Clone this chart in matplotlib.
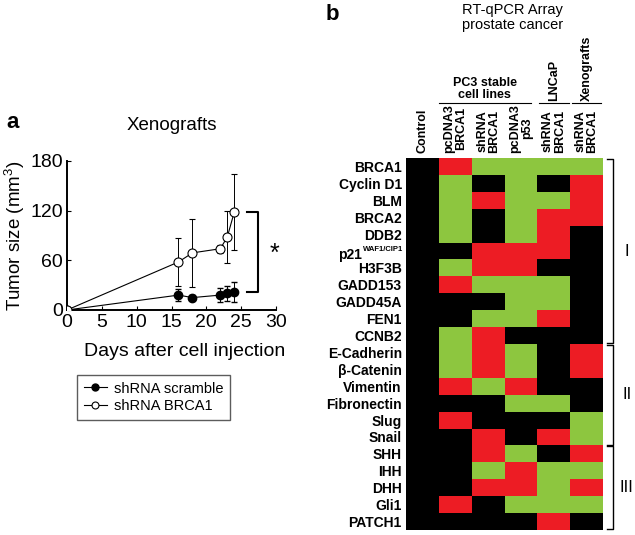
import numpy as np
import matplotlib
matplotlib.use("Agg")
import matplotlib.pyplot as plt
from matplotlib.colors import ListedColormap
from matplotlib.lines import Line2D

plt.rcParams['font.family'] = ['Liberation Sans', 'DejaVu Sans']

# Panel a data: tumor size over time
days_scr = [0, 16, 18, 22, 23, 24]
size_scr = [0, 18, 15, 18, 20, 22]
err_scr = [0, 7, 3, 8, 9, 12]
days_brca = [0, 16, 18, 22, 23, 24]
size_brca = [0, 58, 69, 74, 88, 118]
err_brca = [0, 29, 41, 5, 31, 46]

# Panel b data: 0 = no change (black), 1 = green, 2 = red
genes = ["BRCA1", "Cyclin D1", "BLM", "BRCA2", "DDB2", "p21",
         "H3F3B", "GADD153", "GADD45A", "FEN1", "CCNB2", "E-Cadherin", "β-Catenin",
         "Vimentin", "Fibronectin", "Slug", "Snail", "SHH", "IHH", "DHH", "Gli1", "PATCH1"]
col_labels = ["Control", "pcDNA3\nBRCA1", "shRNA\nBRCA1", "pcDNA3\np53",
              "shRNA\nBRCA1", "shRNA\nBRCA1"]
expr = [
    [0, 2, 1, 1, 1, 1],
    [0, 1, 0, 1, 0, 2],
    [0, 1, 2, 1, 1, 2],
    [0, 1, 0, 1, 2, 2],
    [0, 1, 0, 1, 2, 0],
    [0, 0, 2, 2, 2, 0],
    [0, 1, 2, 2, 0, 0],
    [0, 2, 1, 1, 1, 0],
    [0, 0, 0, 1, 1, 0],
    [0, 0, 1, 1, 2, 0],
    [0, 1, 2, 0, 0, 0],
    [0, 1, 2, 1, 0, 2],
    [0, 1, 2, 1, 0, 2],
    [0, 2, 1, 2, 0, 0],
    [0, 0, 0, 1, 1, 0],
    [0, 2, 0, 0, 0, 1],
    [0, 0, 2, 0, 2, 1],
    [0, 0, 2, 1, 0, 2],
    [0, 0, 1, 2, 1, 1],
    [0, 0, 2, 2, 1, 2],
    [0, 2, 0, 1, 1, 1],
    [0, 0, 0, 0, 2, 0],
]
clusters = [("I", 0, 10), ("II", 11, 16), ("III", 17, 21)]

W, H = 635, 535
fig = plt.figure(figsize=(W / 100, H / 100), dpi=100)

# ---- panel a ----
ax = fig.add_axes([67 / W, 1 - 310 / H, (276 - 67) / W, (310 - 161) / H])
ax.errorbar(days_scr, size_scr, yerr=err_scr, color='black', marker='o', ms=6,
            mfc='black', mec='black', lw=0.8, elinewidth=0.7, capsize=2.5, zorder=3)
ax.errorbar(days_brca, size_brca, yerr=err_brca, color='black', marker='o', ms=6.5,
            mfc='white', mec='black', mew=0.8, lw=0.8, elinewidth=0.7, capsize=2.5,
            zorder=3)
ax.set_xlim(0, 30)
ax.set_ylim(0, 180)
ax.set_xticks([0, 5, 10, 15, 20, 25, 30])
ax.set_yticks([0, 60, 120, 180])
for s in ['top', 'right']:
    ax.spines[s].set_visible(False)
for s in ['left', 'bottom']:
    ax.spines[s].set_linewidth(1.4)
ax.tick_params(direction='in', length=3, labelsize=14, pad=3)
ax.set_xlabel("Days after cell injection", fontsize=14)
ax.xaxis.set_label_coords(0.565, -0.22)
ax.set_ylabel("Tumor size (mm$^\\mathregular{3}$)", fontsize=13.5, labelpad=2)
ax.set_title("Xenografts", fontsize=13.5, pad=22)
# significance bracket
ax.plot([25.9, 27.4, 27.4, 25.9], [118, 118, 22, 22], color='black', lw=1.5, clip_on=False)
ax.text(29.8, 68, "*", fontsize=18, ha='center', va='center')

handles = [Line2D([], [], color='black', lw=0.8, marker='o', ms=5, mfc='black'),
           Line2D([], [], color='black', lw=0.8, marker='o', ms=5, mfc='white', mew=0.8)]
leg = ax.legend(handles, ['shRNA scramble', 'shRNA BRCA1'], loc='upper left',
                bbox_to_anchor=(77 / W, 1 - 375 / H), bbox_transform=fig.transFigure,
                fontsize=10.5, frameon=True, fancybox=False, edgecolor='#333333',
                handlelength=1.6, handletextpad=0.5, borderpad=0.45,
                labelspacing=0.25, borderaxespad=0)
leg.get_frame().set_linewidth(1.0)
fig.text(6 / W, 1 - 123 / H, "a", fontsize=16, fontweight='bold', va='center')

# ---- panel b ----
hx = fig.add_axes([406 / W, 1 - 530 / H, (603 - 406) / W, (530 - 158) / H])
cmap = ListedColormap(['#000000', '#8DC63F', '#ED1C24'])
data = np.array(expr)
hx.pcolormesh(np.arange(data.shape[1] + 1), np.arange(data.shape[0] + 1), data,
              cmap=cmap, vmin=0, vmax=2)
hx.set_xlim(0, 6)
hx.set_ylim(len(genes), 0)
hx.set_xticks([])
hx.set_yticks(np.arange(len(genes)) + 0.5)
p21_row = genes.index("p21")
hx.set_yticklabels([g if i != p21_row else "" for i, g in enumerate(genes)],
                   fontsize=10, fontweight='bold')
hx.tick_params(length=0, pad=3)
for s in hx.spines.values():
    s.set_visible(False)

# p21 with WAF1/CIP1 superscript
sup = hx.text(-0.09, p21_row + 0.42, "WAF1/CIP1", ha='right', va='center',
              fontsize=5.5, fontweight='bold', clip_on=False)
hx.annotate("p21", xy=(0, 0.5), xycoords=sup, xytext=(-0.5, -3.5),
            textcoords='offset points', ha='right', va='center',
            fontsize=10, fontweight='bold', annotation_clip=False)

for i, lab in enumerate(col_labels):
    hx.text(i + 0.5, -0.3, lab, rotation=90, ha='center', va='bottom',
            fontsize=9, fontweight='bold', linespacing=1.0, clip_on=False)

# group headers
hx.plot([1.0, 3.8], [-3.25, -3.25], color='black', lw=0.8, clip_on=False)
hx.text(2.4, -3.4, "PC3 stable\ncell lines", ha='center', va='bottom', fontsize=9,
        fontweight='bold', linespacing=1.0)
hx.plot([4.05, 4.95], [-3.25, -3.25], color='black', lw=0.8, clip_on=False)
hx.text(4.5, -3.35, "LNCaP", rotation=90, ha='center', va='bottom', fontsize=9,
        fontweight='bold')
hx.plot([5.05, 5.95], [-3.25, -3.25], color='black', lw=0.8, clip_on=False)
hx.text(5.5, -3.35, "Xenografts", rotation=90, ha='center', va='bottom', fontsize=9,
        fontweight='bold')
hx.text(3.25, -9.15, "RT-qPCR Array\nprostate cancer", ha='center', va='top',
        fontsize=10.5, linespacing=1.05)
fig.text(326 / W, 1 - 15 / H, "b", fontsize=16, fontweight='bold', va='center')

# cluster brackets
for name, r0, r1 in clusters:
    y0, y1 = r0 + 0.05, r1 + 0.95
    hx.plot([6.12, 6.3, 6.3, 6.12], [y0, y0, y1, y1], color='black', lw=1.0,
            clip_on=False)
    hx.text(6.72, (y0 + y1) / 2, name, ha='center', va='center', fontsize=12)

fig.savefig("out.png", dpi=100)
